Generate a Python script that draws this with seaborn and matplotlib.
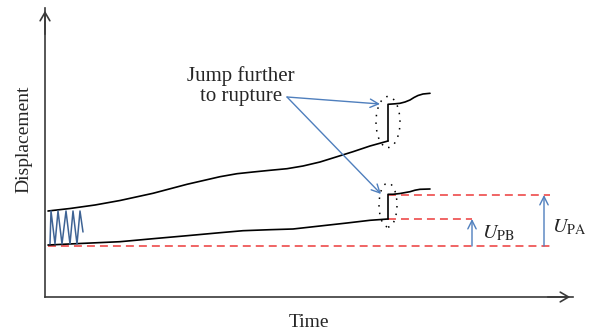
import matplotlib
matplotlib.use("Agg")
import matplotlib.pyplot as plt
from matplotlib.patches import Ellipse
import seaborn as sns

# Time / displacement samples of the two creep curves (before the jump)
upper_t = [3, 25, 50, 75, 108, 142, 175, 192, 208, 225, 242, 258, 275, 292,
           308, 325, 343]
upper_u = [86, 88.5, 92, 96.5, 103.7, 112.7, 120.3, 123.3, 125, 126.7, 128.3,
           131, 135, 140.3, 145.3, 151, 156]
lower_t = [3, 35, 55, 75, 108, 142, 175, 198, 225, 248, 275, 302, 325, 343]
lower_u = [52, 53.5, 54.4, 55.3, 58.3, 61.3, 64.3, 66.3, 67.3, 68, 71, 74,
           76.7, 78]

# Curves after the sudden jump towards rupture
upper_jump_t = [343, 343, 350, 355, 360, 365, 369, 373, 378, 385]
upper_jump_u = [156, 192.7, 193.2, 193.7, 195, 197, 199.5, 201.5, 203, 203.7]
lower_jump_t = [343, 343, 348, 355, 365, 370, 375, 385]
lower_jump_u = [78, 102.7, 102.7, 103.5, 105.3, 106.8, 107.7, 108]

# Cyclic loading at the start
osc_t = [5, 6, 10, 13, 17, 21, 25, 28, 32, 35, 38]
osc_u = [53, 86, 53, 86, 53, 86, 53, 86, 53, 86, 65]

# Reference displacement levels
base_u = 51
pb_u = 78
pa_u = 102
pb_t = 427
pa_t = 499

sns.set_style("white")
plt.rcParams["font.family"] = ["Liberation Serif", "DejaVu Serif"]
plt.rcParams["mathtext.fontset"] = "stix"

fig = plt.figure(figsize=(5.95, 3.32), dpi=100)
W, H = 595, 332
ax = fig.add_axes([45 / W, (H - 297) / H, 528 / W, 289 / H])
ax.set_xlim(0, 528)
ax.set_ylim(0, 289)

axis_col = "#3a3a3a"
for side in ["top", "right"]:
    ax.spines[side].set_visible(False)
for side in ["left", "bottom"]:
    ax.spines[side].set_color(axis_col)
    ax.spines[side].set_linewidth(1.2)
ax.set_xticks([])
ax.set_yticks([])
ax.annotate("", xy=(528, 0), xytext=(500, 0),
            arrowprops=dict(arrowstyle="->,head_length=0.6,head_width=0.35",
                            color=axis_col, lw=1.2),
            annotation_clip=False)
ax.annotate("", xy=(0, 289), xytext=(0, 260),
            arrowprops=dict(arrowstyle="->,head_length=0.6,head_width=0.35",
                            color=axis_col, lw=1.2),
            annotation_clip=False)

ax.set_xlabel("Time", fontsize=14, labelpad=12)
ax.set_ylabel("Displacement", fontsize=14)
ax.yaxis.set_label_coords(-0.023, 0.545)

# Red dashed reference levels
red = "#ec3b3b"
dash = (0, (5.2, 3.3))
ax.plot([3, 505], [base_u, base_u], color=red, lw=1.1, linestyle=dash)
ax.plot([343, pb_t], [pb_u, pb_u], color=red, lw=1.1, linestyle=dash)
ax.plot([343, 505], [pa_u, pa_u], color=red, lw=1.1, linestyle=dash)

# Creep curves
for t, u in [(upper_t, upper_u), (lower_t, lower_u),
             (upper_jump_t, upper_jump_u), (lower_jump_t, lower_jump_u)]:
    sns.lineplot(x=t, y=u, sort=False, estimator=None, color="black",
                 lw=1.2, ax=ax, solid_joinstyle="round")

# Cyclic loading zig-zag
sns.lineplot(x=osc_t, y=osc_u, sort=False, estimator=None, color="#3e6394",
             lw=1.1, ax=ax)

# Dotted ellipses around the jumps
ax.add_patch(Ellipse((343, 175), 24, 51, fill=False, edgecolor="black",
                     lw=1.1, linestyle=(0, (1, 4))))
ax.add_patch(Ellipse((343, 92), 18, 44, fill=False, edgecolor="black",
                     lw=1.1, linestyle=(0, (1, 4))))

# Annotation text with arrows
blue = "#4f7fbd"
ax.text(196, 211, "Jump further\nto rupture", fontsize=15, ha="center",
        va="center", multialignment="center", linespacing=1.05)
for end in [(335, 193), (336, 103)]:
    ax.annotate("", xy=end, xytext=(242, 200),
                arrowprops=dict(arrowstyle="->,head_length=0.6,head_width=0.3",
                                color=blue, lw=1.0, shrinkA=0, shrinkB=0))

# Displacement arrows U_PB and U_PA
for t, top in [(pb_t, pb_u), (pa_t, pa_u)]:
    ax.annotate("", xy=(t, top), xytext=(t, base_u),
                arrowprops=dict(arrowstyle="->,head_length=0.6,head_width=0.3",
                                color=blue, lw=1.0, shrinkA=0, shrinkB=0))
ax.text(437, 64, r"$U_{\mathrm{PB}}$", fontsize=14.5, ha="left", va="center")
ax.text(507, 70, r"$U_{\mathrm{PA}}$", fontsize=14.5, ha="left", va="center")

fig.savefig("out.png", dpi=100)
